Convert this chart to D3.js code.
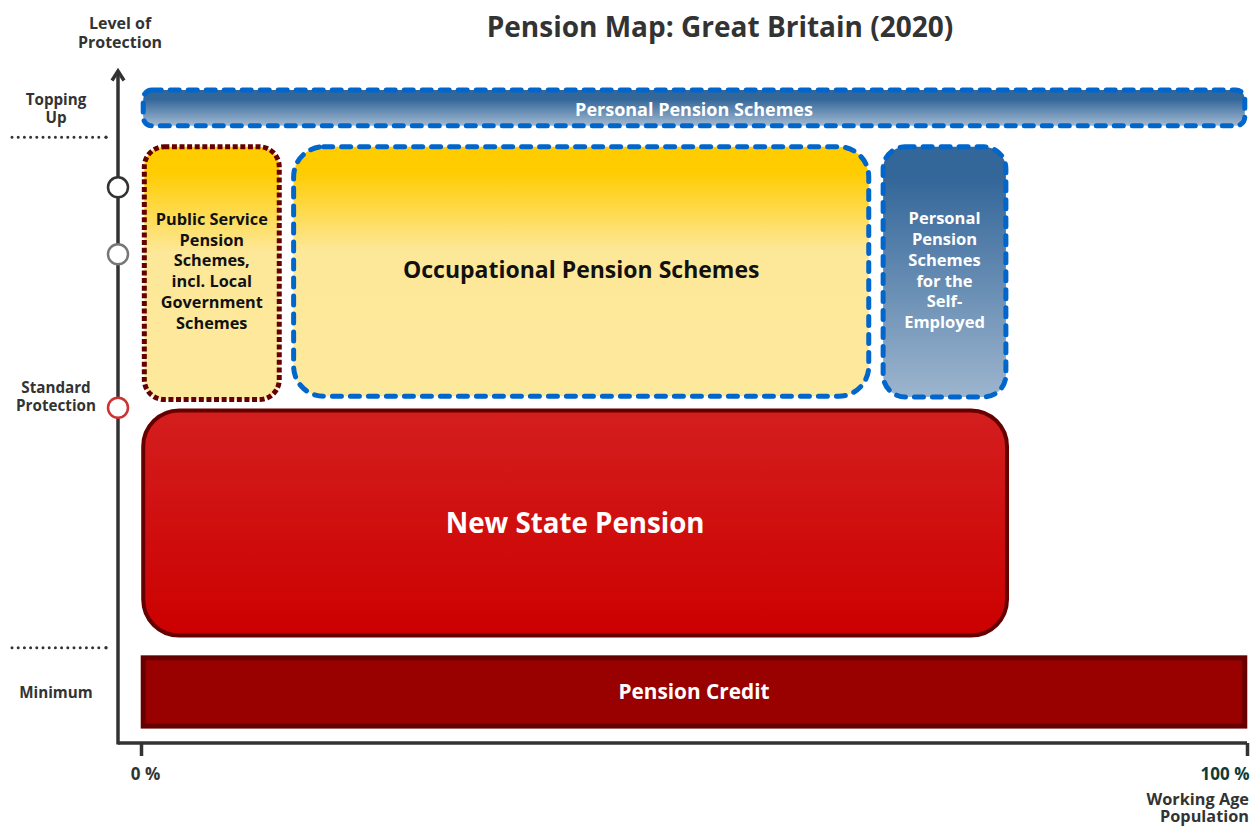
<!DOCTYPE html>
<html>
<head>
<meta charset="utf-8">
<script src="https://cdn.jsdelivr.net/npm/d3@7"></script>
<style>
  html, body { margin: 0; padding: 0; background: #fff; }
  svg { display: block; font-family: "Open Sans", sans-serif; }
</style>
</head>
<body>
<svg id="chart" width="1257" height="827"></svg>
<script>
// ---- data ----
const schemeNames = ["Personal Pension Schemes", "Public Service Pension Schemes, incl. Local Government Schemes", "Occupational Pension Schemes", "Personal Pension Schemes for the Self-Employed", "New State Pension", "Pension Credit"];
const schemeLines = [["Personal Pension Schemes"], ["Public Service", "Pension", "Schemes,", "incl. Local", "Government", "Schemes"], ["Occupational Pension Schemes"], ["Personal", "Pension", "Schemes", "for the", "Self-", "Employed"], ["New State Pension"], ["Pension Credit"]];
const coverStart = [0.2, 0.3, 13.8, 67.1, 0.2, 0.2];   // % of working age population
const coverEnd   = [99.8, 12.5, 65.8, 78.2, 78.3, 99.8];
const levelLow   = [91.3, 50.8, 51.3, 51.2, 15.9, 2.5]; // level of protection
const levelHigh  = [96.6, 88.2, 88.2, 88.2, 49.2, 12.6];
const levelNames = [["Topping", "Up"], ["Standard", "Protection"], ["Minimum"]];
const levelLabelPos = [93.8, 51.2, 7.5];
const markerLevels = [82.2, 72.3, 49.6];
const dividerLevels = [89.6, 14.1];
const xTickValues = [0, 100];
const xTickLabels = ["0 %", "100 %"];

// ---- layout ----
const svg = d3.select("#chart");
const x = d3.scaleLinear().domain([0, 100]).range([141, 1247]);
const y = d3.scaleLinear().domain([0, 100]).range([743, 67]);
const axisX = 118;

const styles = [
  {fill: "url(#gBlue)", stroke: "#0066cc", dash: "9,9", sw: 5, r: 9, text: "#fff", size: 18, lh: 0, dy: 1.5},
  {fill: "url(#gYellow)", stroke: "#660000", dash: "5,2.6", sw: 5, r: 20, text: "#111", size: 16.3, lh: 20.8, dy: -2},
  {fill: "url(#gYellow)", stroke: "#0066cc", dash: "9,9", sw: 5, r: 30, text: "#111", size: 23, lh: 0, dy: -1.5},
  {fill: "url(#gBlue2)", stroke: "#0066cc", dash: "9,9", sw: 5, r: 22, text: "#fff", size: 16.5, lh: 20.8, dy: -1.5},
  {fill: "url(#gRed)", stroke: "#660000", dash: null, sw: 4, r: 36, text: "#fff", size: 27.7, lh: 0, dy: 0.5},
  {fill: "#990000", stroke: "#660000", dash: null, sw: 5, r: 0, text: "#fff", size: 20.8, lh: 0, dy: 0}
];

const defs = svg.append("defs");
function grad(id, stops) {
  const g = defs.append("linearGradient").attr("id", id).attr("x1", 0).attr("y1", 0).attr("x2", 0).attr("y2", 1);
  stops.forEach(s => g.append("stop").attr("offset", s[0]).attr("stop-color", s[1]));
}
grad("gBlue", [["0%", "#336699"], ["25%", "#336699"], ["100%", "#a3bad2"]]);
grad("gBlue2", [["0%", "#336699"], ["12%", "#336699"], ["100%", "#9db5ce"]]);
grad("gYellow", [["0%", "#ffcc00"], ["10%", "#ffcc00"], ["42%", "#fde89a"], ["100%", "#fde99c"]]);
grad("gRed", [["0%", "#d41e1e"], ["100%", "#cc0000"]]);

// title
svg.append("text").attr("x", 720).attr("y", 37).attr("text-anchor", "middle")
  .attr("font-size", 28).attr("font-weight", 700).attr("fill", "#333")
  .text("Pension Map: Great Britain (2020)");

// boxes
const boxes = svg.append("g").selectAll("g").data(schemeNames).join("g");
boxes.append("rect")
  .attr("x", (d, i) => x(coverStart[i]))
  .attr("y", (d, i) => y(levelHigh[i]))
  .attr("width", (d, i) => x(coverEnd[i]) - x(coverStart[i]))
  .attr("height", (d, i) => y(levelLow[i]) - y(levelHigh[i]))
  .attr("rx", (d, i) => styles[i].r)
  .attr("fill", (d, i) => styles[i].fill)
  .attr("stroke", (d, i) => styles[i].stroke)
  .attr("stroke-width", (d, i) => styles[i].sw)
  .attr("stroke-dasharray", (d, i) => styles[i].dash)
  .attr("stroke-linecap", (d, i) => styles[i].dash && i !== 1 ? "round" : "butt");

boxes.each(function(d, i) {
  const st = styles[i];
  const lines = schemeLines[i];
  const cx = (x(coverStart[i]) + x(coverEnd[i])) / 2;
  const cy = (y(levelLow[i]) + y(levelHigh[i])) / 2;
  const lh = st.lh || st.size * 1.3;
  const t = d3.select(this).append("text")
    .attr("text-anchor", "middle").attr("font-weight", 700)
    .attr("font-size", st.size).attr("fill", st.text);
  lines.forEach((ln, k) => {
    t.append("tspan").attr("x", cx)
      .attr("y", cy + (k - (lines.length - 1) / 2) * lh + st.size * 0.35 + st.dy)
      .text(ln);
  });
});

// axes
const axisG = svg.append("g");
axisG.append("line").attr("x1", axisX).attr("x2", axisX).attr("y1", y(99.2)).attr("y2", y(0) + 1.5)
  .attr("stroke", "#333").attr("stroke-width", 3.5);
axisG.append("path")
  .attr("d", `M${axisX - 6},${y(98)} L${axisX},${y(99.4)} L${axisX + 6},${y(98)}`)
  .attr("fill", "none").attr("stroke", "#333").attr("stroke-width", 3.5).attr("stroke-linejoin", "miter");
axisG.append("line").attr("x1", axisX).attr("x2", x(100)).attr("y1", y(0)).attr("y2", y(0))
  .attr("stroke", "#333").attr("stroke-width", 3.5);

const xAxis = d3.axisBottom(x).tickValues(xTickValues).tickSize(13).tickPadding(12)
  .tickFormat((d, i) => xTickLabels[i]);
const xa = svg.append("g").attr("transform", `translate(0,${y(0)})`).call(xAxis);
xa.select(".domain").remove();
xa.selectAll(".tick line").attr("stroke", "#333").attr("stroke-width", 3.5);
xa.selectAll(".tick text").attr("font-size", 17).attr("font-weight", 700)
  .attr("font-family", "'Open Sans', sans-serif")
  .attr("fill", (d, i) => i === 0 ? "#333" : "#0d3b38")
  .attr("text-anchor", (d, i) => i === 0 ? "middle" : "end")
  .attr("dx", (d, i) => i === 0 ? 4 : 2);

// axis titles
const yTitle = svg.append("text").attr("text-anchor", "middle").attr("font-size", 16)
  .attr("font-weight", 700).attr("fill", "#333");
[["Level of", 29], ["Protection", 48]].forEach(a => yTitle.append("tspan").attr("x", axisX + 2).attr("y", a[1]).text(a[0]));
const xTitle = svg.append("text").attr("text-anchor", "end").attr("font-size", 16.3)
  .attr("font-weight", 700).attr("fill", "#333");
[["Working Age", 805], ["Population", 822]].forEach(a => xTitle.append("tspan").attr("x", 1249).attr("y", a[1]).text(a[0]));

// level labels
levelNames.forEach((lines, i) => {
  const t = svg.append("text").attr("text-anchor", "middle").attr("font-size", 15.2)
    .attr("font-weight", 700).attr("fill", "#333");
  lines.forEach((ln, k) => t.append("tspan").attr("x", 56)
    .attr("y", y(levelLabelPos[i]) + (k - (lines.length - 1) / 2) * 18 + 5.5).text(ln));
});

// dotted dividers
svg.append("g").selectAll("line").data(dividerLevels).join("line")
  .attr("x1", 12).attr("x2", 101).attr("y1", d => y(d)).attr("y2", d => y(d))
  .attr("stroke", "#333").attr("stroke-width", 3).attr("stroke-dasharray", "0,6.2")
  .attr("stroke-linecap", "round");
svg.append("g").selectAll("circle").data(dividerLevels).join("circle")
  .attr("cx", 106).attr("cy", d => y(d)).attr("r", 1.7).attr("fill", "#333");

// markers on axis
const markerColors = ["#333", "#777", "#cc3333"];
svg.append("g").selectAll("circle").data(markerLevels).join("circle")
  .attr("cx", axisX).attr("cy", d => y(d)).attr("r", 10)
  .attr("fill", "#fff").attr("stroke", (d, i) => markerColors[i]).attr("stroke-width", 2.5);
</script>
</body>
</html>
